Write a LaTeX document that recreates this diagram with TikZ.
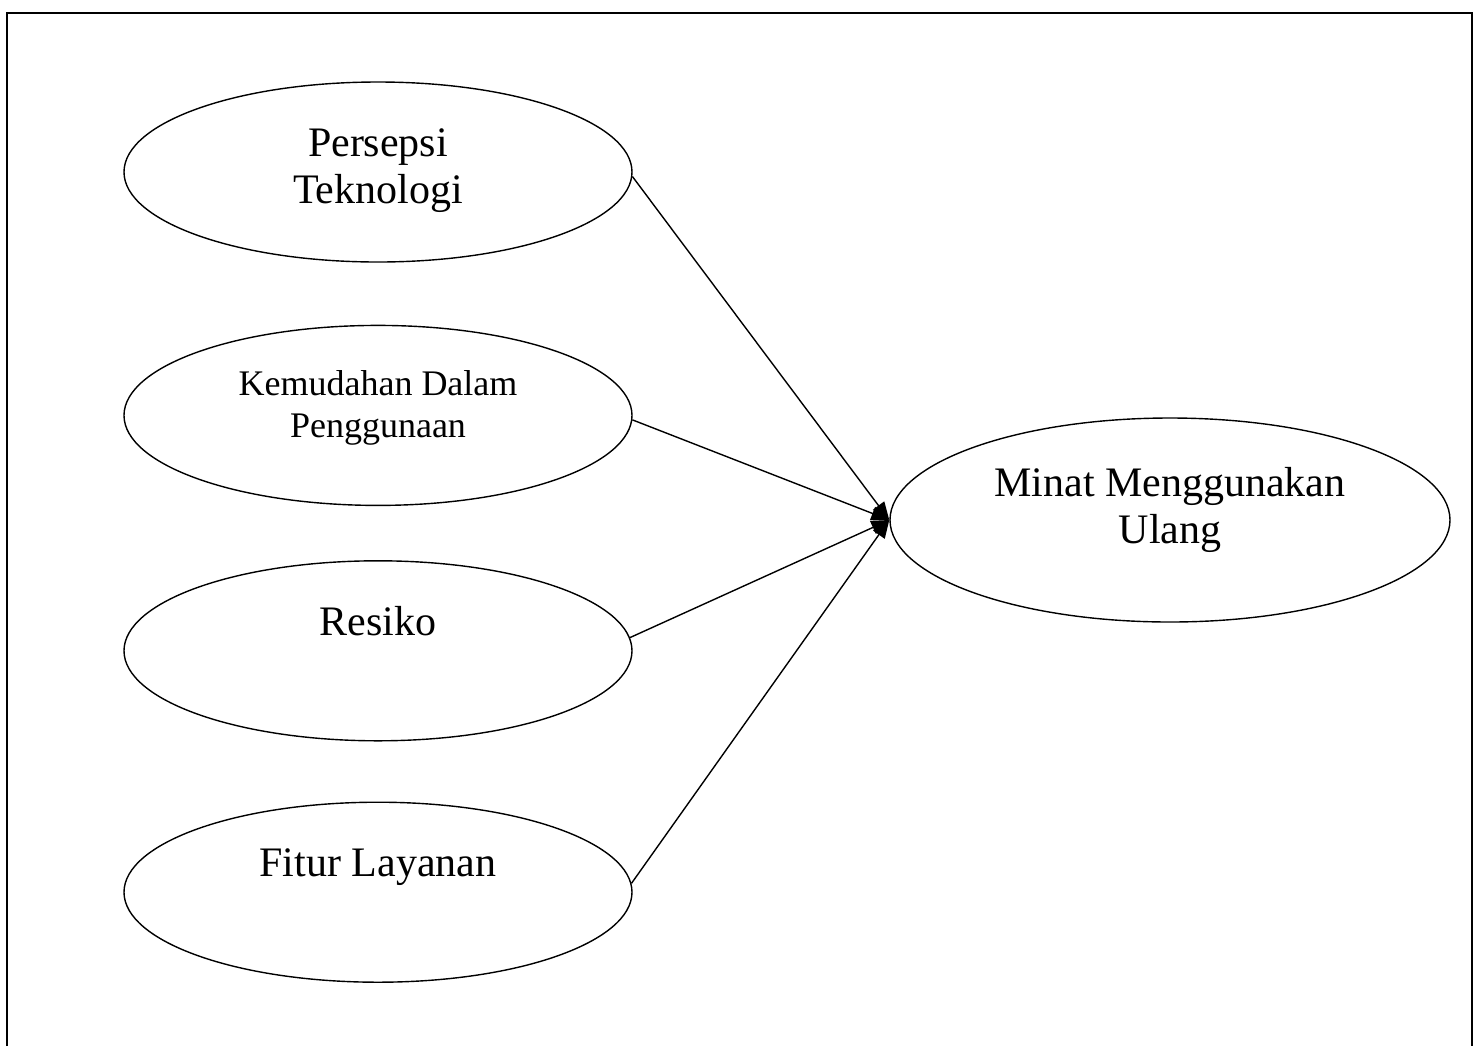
\documentclass[tikz,border=0pt]{standalone}
\usepackage{fontspec}
\setmainfont{Liberation Serif}
\usetikzlibrary{arrows.meta, positioning, shapes.geometric}

\begin{document}
\begin{tikzpicture}[
    x=0.5pt, y=-0.5pt,
    font=\fontsize{21}{23.5}\selectfont,
    >={Triangle[length=9pt, width=7pt]},
    var/.style={ellipse, draw, line width=0.7pt, inner sep=0pt, align=center, text depth=6pt, minimum width=254pt, minimum height=90pt},
    small/.style={font=\fontsize{18}{21}\selectfont},
    link/.style={->, line width=0.7pt}
]
    \useasboundingbox (0,0) rectangle (1480,1046);

    % Frame (open at the bottom)
    \draw[line width=1pt] (7,1046) -- (7,13) -- (1472,13) -- (1472,1046);

    % Independent variables
    \node[var] (persepsi) at (378,172) {Persepsi\\Teknologi};
    \node[var, small, text depth=11pt, below=31pt of persepsi] (kemudahan) {Kemudahan Dalam\\Penggunaan};
    \node[var, below=27pt of kemudahan] (resiko) {Resiko\\~};
    \node[var, below=30pt of resiko] (fitur) {Fitur Layanan\\~};

    % Dependent variable
    \node[var, text depth=15pt, minimum width=280pt, minimum height=102pt] (minat) at (1170,520) {Minat Menggunakan\\Ulang};

    % Arrows
    \draw[link] (persepsi.-1.5) -- (minat.west);
    \draw[link] (kemudahan.-1) -- (minat.west);
    \draw[link] (resiko.3) -- (minat.west);
    \draw[link] (fitur.2) -- (minat.west);

\end{tikzpicture}
\end{document}
